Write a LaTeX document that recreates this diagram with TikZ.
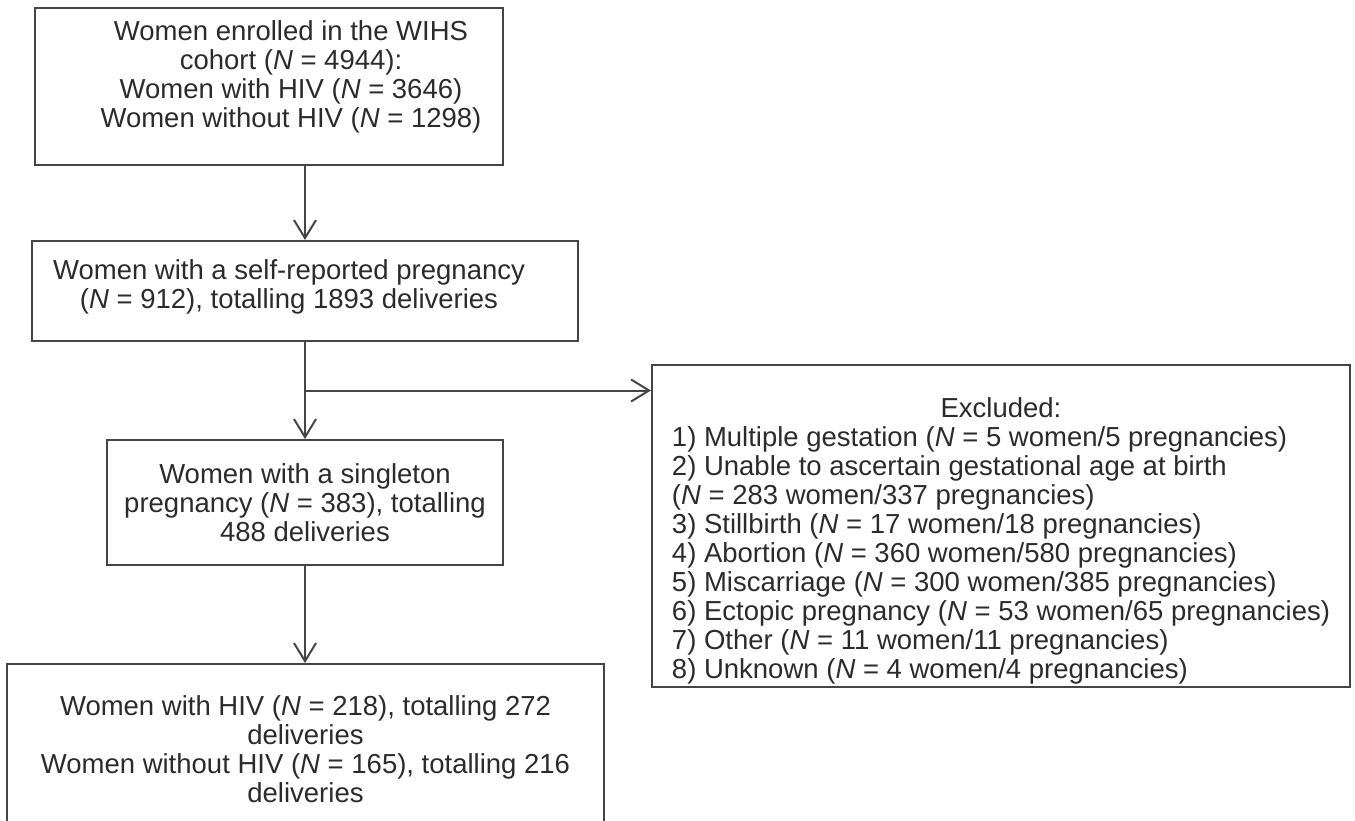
\documentclass[tikz,border=0pt]{standalone}
\usepackage{fontspec}
\setmainfont{Liberation Sans}
\usetikzlibrary{arrows.meta,calc}
\definecolor{linegray}{HTML}{454545}
\definecolor{textgray}{HTML}{2B2B2B}
\newcommand{\Nit}{\textit{N}}
% text block moved by (#1 right, #2 up) inside its box
\newcommand{\movetext}[3]{\raisebox{#2}[\height][\depth]{\hspace*{#1}\begin{tabular}{@{}c@{}}#3\end{tabular}\hspace*{-#1}}}

\begin{document}
\begin{tikzpicture}[x=1pt,y=-1pt,
  flowbox/.style={draw=linegray,line width=2pt,inner sep=0pt,align=center,text=textgray,font=\fontsize{27.5}{29}\selectfont},
  flowarrow/.style={draw=linegray,line width=2pt,-{Straight Barb[length=18pt,width=22pt,line width=2pt]}}]
\useasboundingbox (0,0) rectangle (1355,821);

% Main column
\node[flowbox,minimum width=468,minimum height=157] (enrolled) at (269,86.5)
  {\movetext{22pt}{8pt}{Women enrolled in the WIHS\\cohort (\Nit{} = 4944):\\Women with HIV (\Nit{} = 3646)\\Women without HIV (\Nit{} = 1298)}};
\node[flowbox,minimum width=546,minimum height=100] (selfrep) at (305,291)
  {\movetext{-16pt}{3pt}{Women with a self-reported pregnancy\\(\Nit{} = 912), totalling 1893 deliveries}};
\node[flowbox,minimum width=396,minimum height=125] (single) at (305,502.5)
  {Women with a singleton\\pregnancy (\Nit{} = 383), totalling\\488 deliveries};
\node[flowbox,minimum width=597,minimum height=170] (final) at (305.5,749)
  {Women with HIV (\Nit{} = 218), totalling 272\\deliveries\\Women without HIV (\Nit{} = 165), totalling 216\\deliveries};

% Right side - exclusions
\node[flowbox,minimum width=698,minimum height=322] (excluded) at (1001,526)
  {\raisebox{-16pt}[\height][\depth]{\begin{tabular}{@{}l@{}}
   \multicolumn{1}{@{}c@{}}{Excluded:}\\
   1) Multiple gestation (\Nit{} = 5 women/5 pregnancies)\\
   2) Unable to ascertain gestational age at birth\\
   (\Nit{} = 283 women/337 pregnancies)\\
   3) Stillbirth (\Nit{} = 17 women/18 pregnancies)\\
   4) Abortion (\Nit{} = 360 women/580 pregnancies)\\
   5) Miscarriage (\Nit{} = 300 women/385 pregnancies)\\
   6) Ectopic pregnancy (\Nit{} = 53 women/65 pregnancies)\\
   7) Other (\Nit{} = 11 women/11 pregnancies)\\
   8) Unknown (\Nit{} = 4 women/4 pregnancies)
  \end{tabular}}};

% Arrows
\coordinate (split) at ($(selfrep.south)!0.5!(single.north)$);
\draw[flowarrow] (enrolled.south -| selfrep.north) -- (selfrep.north);
\draw[flowarrow] (selfrep.south) -- (single.north);
\draw[flowarrow] (split) -- (split -| excluded.west);
\draw[flowarrow] (single.south) -- (single.south |- final.north);
\end{tikzpicture}
\end{document}
